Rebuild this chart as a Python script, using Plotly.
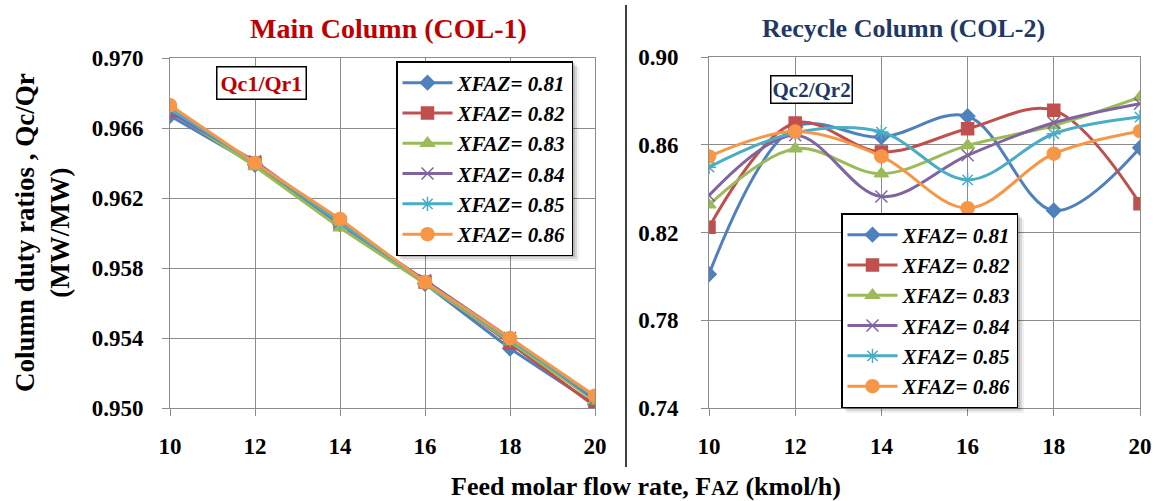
import plotly.graph_objects as go

W, H = 1159, 501

x_flow = [10, 12, 14, 16, 18, 20]
series_names = ["XFAZ= 0.81", "XFAZ= 0.82", "XFAZ= 0.83", "XFAZ= 0.84", "XFAZ= 0.85", "XFAZ= 0.86"]

main_081 = [0.9667, 0.9639, 0.9605, 0.9571, 0.9534, 0.9502]
main_082 = [0.9670, 0.9640, 0.9606, 0.9572, 0.9537, 0.9501]
main_083 = [0.9670, 0.9638, 0.9603, 0.9571, 0.9538, 0.9504]
main_084 = [0.9669, 0.9641, 0.9606, 0.9573, 0.9540, 0.9505]
main_085 = [0.9671, 0.9640, 0.9606, 0.9572, 0.9539, 0.9506]
main_086 = [0.9673, 0.9640, 0.9608, 0.9572, 0.9540, 0.9507]

rec_081 = [0.801, 0.868, 0.8635, 0.873, 0.830, 0.8586]
rec_082 = [0.8224, 0.8699, 0.8567, 0.8673, 0.8757, 0.8331]
rec_083 = [0.8326, 0.8582, 0.8468, 0.8597, 0.8688, 0.8817]
rec_084 = [0.8369, 0.8643, 0.8364, 0.8552, 0.8700, 0.8787]
rec_085 = [0.8498, 0.8655, 0.8658, 0.8440, 0.8650, 0.8726]
rec_086 = [0.8547, 0.8660, 0.8547, 0.8311, 0.8559, 0.8662]

main_series = [main_081, main_082, main_083, main_084, main_085, main_086]
rec_series = [rec_081, rec_082, rec_083, rec_084, rec_085, rec_086]

left_yticks = [0.950, 0.954, 0.958, 0.962, 0.966, 0.970]
right_yticks = [0.74, 0.78, 0.82, 0.86, 0.90]

colors = ["#4F81BD", "#C0504D", "#9BBB59", "#8064A2", "#4BACC6", "#F79646"]
symbols = ["diamond", "square", "triangle-up", "x-thin", "asterisk", "circle"]
msizes = [11, 12, 12, 12, 12, 13]

SERIF = "Liberation Serif"

fig = go.Figure()

for i in range(6):
    mk = dict(symbol=symbols[i], size=msizes[i], color=colors[i],
              line=dict(color=colors[i], width=1.5))
    fig.add_trace(go.Scatter(x=x_flow, y=main_series[i], name=series_names[i],
                             mode="lines+markers", line=dict(color=colors[i], width=3),
                             marker=mk, xaxis="x", yaxis="y", legend="legend"))
for i in range(6):
    mk = dict(symbol=symbols[i], size=msizes[i], color=colors[i],
              line=dict(color=colors[i], width=1.5))
    fig.add_trace(go.Scatter(x=x_flow, y=rec_series[i], name=series_names[i],
                             mode="lines+markers",
                             line=dict(color=colors[i], width=3, shape="spline", smoothing=1.0),
                             marker=mk, xaxis="x2", yaxis="y2", legend="legend2"))

def px(x):
    return x / W

def py(y):
    return (H - y) / H

tickfont = dict(family=SERIF, size=23, color="black", weight="bold")
axis_common = dict(showgrid=True, gridcolor="#8c8c8c", gridwidth=1,
                   showline=True, linecolor="#8c8c8c", linewidth=1, mirror=True,
                   ticks="outside", ticklen=7, tickcolor="#8c8c8c",
                   zeroline=False, tickfont=tickfont, automargin=False)

legfont = dict(family=SERIF, size=21, color="black", weight="bold", style="italic")

LEG1 = (396, 61)
LEG2 = (841, 213)

fig.update_layout(
    width=W, height=H,
    margin=dict(l=0, r=0, t=0, b=0),
    paper_bgcolor="white", plot_bgcolor="white",
    xaxis=dict(domain=[px(170), px(595)], range=[10, 20], tickvals=x_flow,
               anchor="y", ticklabelstandoff=10, **axis_common),
    yaxis=dict(domain=[py(408), py(58)], range=[0.950, 0.970], tickvals=left_yticks,
               tickformat=".3f", anchor="x", ticklabelstandoff=14, **axis_common),
    xaxis2=dict(domain=[px(709), px(1140)], range=[10, 20], tickvals=x_flow,
                anchor="y2", ticklabelstandoff=10, **axis_common),
    yaxis2=dict(domain=[py(408), py(57)], range=[0.74, 0.90], tickvals=right_yticks,
                tickformat=".2f", anchor="x2", ticklabelstandoff=18, **axis_common),
    legend=dict(x=px(LEG1[0]), y=py(LEG1[1]), xanchor="left", yanchor="top",
                bgcolor="white", bordercolor="black", borderwidth=1.5,
                font=legfont, itemwidth=50, tracegroupgap=0),
    legend2=dict(x=px(LEG2[0]), y=py(LEG2[1]), xanchor="left", yanchor="top",
                 bgcolor="white", bordercolor="black", borderwidth=1.5,
                 font=legfont, itemwidth=50, tracegroupgap=0),
    showlegend=True,
)

# legend shadows (soft, right and bottom)
LW, LH = 177, 194
for (x0, y0) in [LEG1, LEG2]:
    x1, y1 = x0 + LW, y0 + LH
    for k, op in [(6, 0.06), (4, 0.10), (2, 0.14)]:
        fig.add_shape(type="rect", xref="paper", yref="paper",
                      x0=px(x0 + k), x1=px(x1 + k), y0=py(y1 + k), y1=py(y0 + k),
                      fillcolor=f"rgba(0,0,0,{op})", line=dict(width=0), layer="above")

# divider line
fig.add_shape(type="line", xref="paper", yref="paper",
              x0=px(626), x1=px(626), y0=py(467), y1=py(5),
              line=dict(color="black", width=1.5))

# titles
fig.add_annotation(text="Main Column (COL-1)", xref="paper", yref="paper",
                   x=px(388), y=py(28), xanchor="center", yanchor="middle", showarrow=False,
                   font=dict(family=SERIF, size=28, color="#C00000", weight="bold"))
fig.add_annotation(text="Recycle Column (COL-2)", xref="paper", yref="paper",
                   x=px(903), y=py(28), xanchor="center", yanchor="middle", showarrow=False,
                   font=dict(family=SERIF, size=26, color="#1F3864", weight="bold"))

# boxes
fig.add_annotation(text="Qc1/Qr1", xref="paper", yref="paper",
                   x=px(261), y=py(83), xanchor="center", yanchor="middle", showarrow=False,
                   bordercolor="black", borderwidth=1.5, bgcolor="white", borderpad=3,
                   font=dict(family=SERIF, size=22, color="#C00000", weight="bold"))
fig.add_annotation(text="Qc2/Qr2", xref="paper", yref="paper",
                   x=px(811), y=py(89), xanchor="center", yanchor="middle", showarrow=False,
                   bordercolor="black", borderwidth=1.5, bgcolor="white", borderpad=1,
                   font=dict(family=SERIF, size=21, color="#1F3864", weight="bold"))

# axis titles
fig.add_annotation(text="Column duty ratios , Qc/Qr<br>(MW/MW)", xref="paper", yref="paper",
                   x=px(43), y=py(233), xanchor="center", yanchor="middle",
                   showarrow=False, textangle=-90,
                   font=dict(family=SERIF, size=27, color="black", weight="bold"))
fig.add_annotation(text="Feed molar flow rate, F<span style='font-size:20px'>AZ</span> (kmol/h)",
                   xref="paper", yref="paper",
                   x=px(646), y=py(486), xanchor="center", yanchor="middle", showarrow=False,
                   font=dict(family=SERIF, size=26, color="black", weight="bold"))

fig.write_html("out.html", config={"displayModeBar": False},
               post_script="document.body.style.margin='0px';document.body.style.padding='0px';")
